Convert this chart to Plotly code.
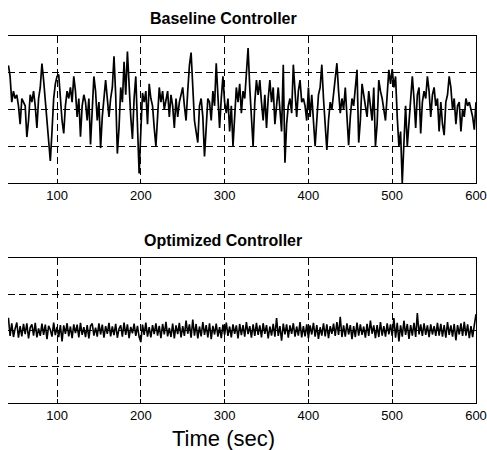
import plotly.graph_objects as go

# time grid (seconds) - every 2 s
time_sec = list(range(42, 601, 2))

baseline = [
    1.20, 0.90, 0.20, 0.50, 0.30, 0.40, 0.10, -0.40, 0.30, 0.20,
    0.10, -0.75, -0.30, 0.40, 0.20, 0.50, 0.10, -0.50, 0.30, 0.60,
    1.25, 0.80, 0.20, -0.40, -0.90, -1.40, -0.60, 0.30, 0.70, 0.90,
    0.95, 0.20, -0.30, -0.65, 0.10, 0.50, 0.30, 0.60, 0.20, 0.90,
    0.50, -0.20, 0.30, -0.74, 0.10, 0.40, 0.20, -0.30, 0.30, -0.95,
    0.20, 0.90, 0.50, -0.30, 0.20, -1.05, -0.20, 0.40, 0.80, 0.30,
    -0.20, 0.30, 0.60, 1.45, 0.40, -1.20, -0.50, 0.60, 0.20, 1.30,
    0.40, 1.58, 0.60, -0.20, -0.80, 0.30, 0.90, -0.30, -1.74, -0.60,
    0.45, 0.20, 0.50, -0.40, 0.70, 0.30, 0.10, -0.50, -1.00, -0.20,
    0.60, 0.20, 0.50, 0.00, 0.30, 0.50, -0.20, 0.40, 0.10, -0.50,
    0.30, -0.20, 0.20, 0.40, 0.60, 0.10, -0.30, 0.50, 1.20, 1.55,
    0.40, -0.30, -0.60, -0.90, 0.10, 0.30, -0.20, -1.28, -0.50, 0.30,
    0.20, -0.30, 0.50, 0.10, 1.26, 0.40, -0.50, 0.30, 0.90, 0.20,
    -0.10, 0.30, -0.60, 0.10, -1.00, -0.20, 0.60, 0.20, 0.70, -0.10,
    0.50, 0.30, 1.10, 1.67, 0.60, -0.30, -1.00, 0.20, 0.80, 0.40,
    0.80, 0.20, -0.30, 0.40, -0.50, 0.30, 0.80, 0.20, 0.60, -0.40,
    0.20, 0.60, 0.00, -0.60, 1.22, -1.45, -0.40, 0.10, 0.30, -0.10,
    1.22, 0.40, -0.20, 0.50, 0.80, 0.20, 0.30, 0.10, -0.30, 0.60,
    -0.20, 0.40, -0.50, -1.00, -0.30, 0.40, 0.60, 1.22, 0.30, -0.45,
    -1.10, -0.30, 0.20, 0.00, 0.40, 0.80, 1.26, 0.50, -0.10, 0.30,
    0.00, 0.60, -0.30, -0.97, -0.20, 0.30, 0.10, 0.50, 1.08, -0.90,
    -0.30, 0.70, 0.40, 0.20, -0.20, 0.50, 0.10, -0.30, 0.60, -1.00,
    -0.40, 0.80, 0.50, 0.30, 0.00, -0.30, 0.40, 1.08, 0.70, 1.10,
    0.60, 0.90, -0.20, -1.00, -0.60, -2.00, -0.90, 0.10, -1.00, -0.30,
    0.50, 0.90, 0.30, -0.50, 0.40, 0.60, -0.65, 0.20, 0.50, 0.30,
    0.90, 0.50, -0.20, 0.40, 0.60, 0.10, 0.30, -0.60, 0.20, -0.40,
    -0.70, 0.20, 0.40, 0.90, 0.60, 0.00, 0.30, -0.40, 0.10, 0.20,
    -0.60, 0.00, -0.20, 0.30, 0.10, 0.20, 0.00, -0.20, -0.55, 0.20,
]

optimized = [
    0.35, -0.15, 0.20, -0.18, 0.05, 0.22, -0.20, 0.12, -0.16, 0.18,
    -0.10, 0.20, -0.22, 0.08, 0.17, -0.14, 0.21, -0.19, 0.06, -0.15,
    0.19, -0.12, 0.16, -0.24, 0.13, 0.02, -0.17, 0.22, -0.13, 0.10,
    -0.18, 0.15, -0.30, 0.14, -0.09, 0.20, -0.16, 0.11, -0.21, 0.17,
    -0.07, 0.16, -0.19, 0.21, -0.12, 0.09, -0.18, 0.15, -0.22, 0.13,
    0.19, -0.14, 0.08, -0.17, 0.20, -0.11, 0.16, -0.20, 0.12, -0.09,
    0.21, -0.16, 0.11, -0.13, 0.18, -0.20, 0.05, 0.14, -0.17, 0.22,
    -0.12, 0.17, -0.21, 0.10, -0.08, 0.19, -0.15, 0.13, -0.18, -0.32,
    0.16, -0.12, 0.22, -0.17, 0.09, -0.19, 0.15, -0.10, 0.20, -0.14,
    0.13, -0.21, 0.18, -0.11, 0.24, -0.16, 0.07, -0.18, 0.19, -0.22,
    0.14, -0.10, 0.21, -0.19, 0.12, -0.15, 0.27, -0.09, 0.17, -0.20,
    0.30, -0.14, 0.18, -0.22, 0.11, -0.16, 0.23, -0.12, 0.15, -0.19,
    0.20, -0.24, 0.13, -0.11, 0.19, -0.17, 0.09, -0.21, 0.16, -0.12,
    0.22, -0.15, 0.11, -0.19, 0.17, -0.09, 0.14, -0.22, 0.18, -0.13,
    0.15, -0.17, 0.23, -0.10, 0.12, -0.20, 0.17, -0.15, 0.21, -0.12,
    0.14, -0.19, 0.20, -0.09, 0.15, -0.22, 0.11, -0.14, 0.18, -0.17,
    0.34, -0.15, 0.12, -0.28, 0.19, -0.11, 0.17, -0.20, 0.14, -0.09,
    0.20, -0.17, 0.11, -0.14, 0.23, -0.19, 0.12, -0.16, 0.17, -0.21,
    0.14, -0.11, 0.21, -0.17, 0.15, -0.23, 0.09, -0.14, 0.20, -0.16,
    0.17, -0.21, 0.12, -0.09, 0.19, -0.15, 0.23, -0.12, 0.38, -0.18,
    0.14, -0.17, 0.20, -0.11, 0.15, -0.24, 0.12, -0.18, 0.22, -0.14,
    0.17, -0.12, 0.11, -0.20, 0.18, -0.15, 0.27, -0.09, 0.14, -0.21,
    0.15, -0.18, 0.23, -0.14, 0.12, -0.17, 0.20, -0.11, 0.17, -0.15,
    0.34, -0.20, 0.21, -0.30, 0.14, -0.17, 0.27, -0.12, 0.18, -0.23,
    0.15, -0.14, 0.21, -0.18, 0.48, -0.11, 0.17, -0.15, 0.20, -0.12,
    0.14, -0.18, 0.17, -0.11, 0.12, -0.15, 0.21, -0.14, 0.18, -0.17,
    0.15, -0.20, 0.23, -0.12, 0.14, -0.17, 0.18, -0.27, 0.15, -0.11,
    0.20, -0.15, 0.24, -0.14, 0.17, -0.21, 0.12, -0.18, 0.15, 0.45,
]

x_ticks = [100, 200, 300, 400, 500, 600]
y_ticks = [-1, 0, 1]
titles = ["Baseline Controller", "Optimized Controller"]
x_label = "Time (sec)"

FONT = "Liberation Sans, Arial, sans-serif"

fig = go.Figure()
fig.add_trace(go.Scatter(x=time_sec, y=baseline, mode="lines",
                         line=dict(color="black", width=1.7),
                         xaxis="x", yaxis="y", showlegend=False))
fig.add_trace(go.Scatter(x=time_sec, y=optimized, mode="lines",
                         line=dict(color="black", width=1.6),
                         xaxis="x2", yaxis="y2", showlegend=False))

xcommon = dict(range=[41.5, 600], tickvals=x_ticks, showgrid=True,
               gridcolor="black", gridwidth=1, griddash="7px,4px",
               showline=True, linecolor="black", linewidth=1, mirror="ticks",
               ticks="inside", ticklen=4, tickcolor="black",
               tickfont=dict(family=FONT, size=13, color="black"),
               zeroline=False, automargin=False,
               domain=[8 / 487, 476 / 487])
ycommon = dict(range=[-2, 2], tickvals=y_ticks, showgrid=True,
               gridcolor="black", gridwidth=1, griddash="7px,4px",
               showline=True, linecolor="black", linewidth=1, side="right",
               ticks="inside", ticklen=4, tickcolor="black",
               showticklabels=False, zeroline=False, automargin=False)

fig.update_layout(
    width=487, height=450,
    margin=dict(l=0, r=0, t=0, b=0, autoexpand=False),
    paper_bgcolor="white", plot_bgcolor="white",
    xaxis=dict(**xcommon, anchor="y"),
    yaxis=dict(**ycommon, anchor="x", domain=[1 - 183 / 450, 1 - 36 / 450]),
    xaxis2=dict(**xcommon, anchor="y2"),
    yaxis2=dict(**ycommon, anchor="x2", domain=[1 - 403 / 450, 1 - 258 / 450]),
    annotations=[
        dict(text="<b>" + titles[0] + "</b>", x=223 / 487, y=1 - 18 / 450,
             xref="paper", yref="paper", showarrow=False,
             xanchor="center", yanchor="middle",
             font=dict(family=FONT, size=16, color="black")),
        dict(text="<b>" + titles[1] + "</b>", x=223 / 487, y=1 - 240 / 450,
             xref="paper", yref="paper", showarrow=False,
             xanchor="center", yanchor="middle",
             font=dict(family=FONT, size=16, color="black")),
        dict(text=x_label, x=223 / 487, y=1 - 438 / 450,
             xref="paper", yref="paper", showarrow=False,
             xanchor="center", yanchor="middle",
             font=dict(family=FONT, size=22, color="black")),
    ],
)

fig.write_html("out.html")
